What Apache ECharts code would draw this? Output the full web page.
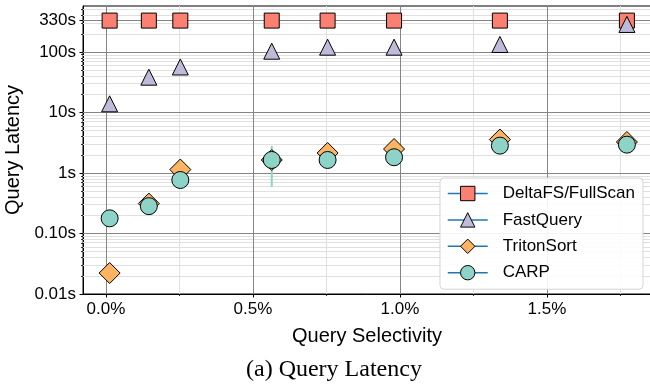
<!DOCTYPE html>
<html>
<head>
<meta charset="utf-8">
<script src="https://cdn.jsdelivr.net/npm/echarts@6/dist/echarts.min.js"></script>
<style>html,body{margin:0;padding:0;background:#fff;}#c{width:650px;height:387px;}</style>
</head>
<body>
<div id="c"></div>
<script>
// ---- data ----
const selectivity = [0.0126, 0.146, 0.253, 0.564, 0.754, 0.98, 1.34, 1.772]; // %
const deltaFS    = [330, 330, 330, 330, 330, 330, 330, 330];
const fastQuery  = [13.9, 38.3, 56.5, 103, 120, 120, 133, 285];
const tritonSort = [0.0222, 0.312, 1.14, 1.64, 2.14, 2.49, 3.57, 3.25];
const carp       = [0.178, 0.283, 0.766, 1.64, 1.64, 1.82, 2.83, 2.94];
const carpErrLow  = [null, null, null, 0.59, null, null, null, null];
const carpErrHigh = [null, null, null, 2.8, null, null, null, null];

const xTickValues = [0, 0.5, 1.0, 1.5];
const xTickLabels = ['0.0%', '0.5%', '1.0%', '1.5%'];
const xMinorTicks = [0.25, 0.75, 1.25, 1.75];
const yTickValues = [0.01, 0.1, 1, 10, 100, 330];
const yTickLabels = ['0.01s', '0.10s', '1s', '10s', '100s', '330s'];
const yDecades = [0.01, 0.1, 1, 10, 100];
const yMultipliers = [2, 3, 4, 5, 6, 7, 8, 9];

const X_MIN = -0.078, X_MAX = 1.854;
const Y_MIN_RAW = 0.01, Y_MAX_RAW = 575;

// ---- helpers ----
const lg = v => Math.log10(v);
const yMin = lg(Y_MIN_RAW), yMax = lg(Y_MAX_RAW);
const yMinor = [];
yDecades.forEach(d => yMultipliers.forEach(m => { if (d * m <= Y_MAX_RAW) yMinor.push(d * m); }));
const pts = arr => selectivity.map((x, i) => [x, lg(arr[i])]);

const FONT = 'Liberation Sans';
const MAJOR = '#858585', MINOR = '#e0e0e0';

const gridLines = [];
yMinor.forEach(v => gridLines.push({ yAxis: lg(v), lineStyle: { color: MINOR, width: 1, type: 'solid' } }));
xMinorTicks.forEach(v => gridLines.push({ xAxis: v, lineStyle: { color: MINOR, width: 1, type: 'solid' } }));
yTickValues.slice(1).forEach(v => gridLines.push({ yAxis: lg(v), lineStyle: { color: MAJOR, width: 1, type: 'solid' } }));
xTickValues.forEach(v => gridLines.push({ xAxis: v, lineStyle: { color: MAJOR, width: 1, type: 'solid' } }));

const errData = [];
selectivity.forEach((x, i) => { if (carpErrLow[i] != null) errData.push([x, lg(carpErrLow[i]), lg(carpErrHigh[i])]); });

function markerSeries(name, arr, symbol, size, color) {
  return {
    name, type: 'line', data: pts(arr), symbol, symbolSize: size, showSymbol: true,
    lineStyle: { width: 0, opacity: 0 },
    itemStyle: { color, borderColor: '#000', borderWidth: 1, opacity: 1 },
    emphasis: { disabled: true }, z: 3, animation: false, clip: false
  };
}

const chart = echarts.init(document.getElementById('c'), null, { renderer: 'canvas' });
chart.setOption({
  animation: false,
  textStyle: { fontFamily: FONT, color: '#000' },
  grid: { left: 83, right: -1, top: 6, bottom: 93, show: true, borderColor: '#000', borderWidth: 1,
          backgroundColor: 'transparent', containLabel: false, outerBoundsMode: 'none' },
  xAxis: [
    {
      type: 'value', min: X_MIN, max: X_MAX,
      axisLine: { show: true, onZero: false, lineStyle: { color: '#000', width: 1 } },
      axisTick: { show: true, customValues: xTickValues, length: 3.5, lineStyle: { color: '#000', width: 1 } },
      axisLabel: {
        customValues: xTickValues, fontSize: 17, fontFamily: FONT, color: '#000', margin: 7,
        formatter: v => { const i = xTickValues.findIndex(t => Math.abs(t - v) < 1e-6); return i >= 0 ? xTickLabels[i] : ''; }
      },
      splitLine: { show: false },
      name: 'Query Selectivity', nameLocation: 'middle', nameGap: 32,
      nameTextStyle: { fontSize: 20, fontFamily: FONT, color: '#000' }
    },
    {
      type: 'value', min: X_MIN, max: X_MAX, position: 'bottom',
      axisLine: { show: false, onZero: false },
      axisTick: { show: true, customValues: xMinorTicks, length: 2, lineStyle: { color: '#000', width: 0.8 } },
      axisLabel: { show: false }, splitLine: { show: false }
    }
  ],
  yAxis: [
    {
      type: 'value', min: yMin, max: yMax,
      axisLine: { show: true, onZero: false, lineStyle: { color: '#000', width: 1 } },
      axisTick: { show: true, customValues: yTickValues.map(lg), length: 3.5, lineStyle: { color: '#000', width: 1 } },
      axisLabel: {
        customValues: yTickValues.map(lg), fontSize: 17, fontFamily: FONT, color: '#000', margin: 7,
        formatter: v => { let best = 0; yTickValues.forEach((t, i) => { if (Math.abs(lg(t) - v) < Math.abs(lg(yTickValues[best]) - v)) best = i; }); return yTickLabels[best]; }
      },
      splitLine: { show: false },
      name: 'Query Latency', nameLocation: 'middle', nameGap: 52,
      nameTextStyle: { fontSize: 20, fontFamily: FONT, color: '#000' }
    },
    {
      type: 'value', min: yMin, max: yMax, position: 'left',
      axisLine: { show: false, onZero: false },
      axisTick: { show: true, customValues: yMinor.map(lg), length: 2, lineStyle: { color: '#000', width: 0.8 } },
      axisLabel: { show: false }, splitLine: { show: false }
    }
  ],
  legend: {
    orient: 'vertical', right: 7, top: 178,
    data: ['DeltaFS/FullScan', 'FastQuery', 'TritonSort', 'CARP'],
    itemWidth: 40, itemHeight: 18, itemGap: 9.4,
    padding: [7, 8, 8, 7],
    backgroundColor: 'rgba(255,255,255,0.9)', borderColor: '#d4d4d4', borderWidth: 1, borderRadius: 4,
    textStyle: { fontSize: 17, fontFamily: FONT, color: '#000', padding: [0, 0, 0, 10] },
    lineStyle: { color: '#1f77b4', width: 1.5, opacity: 1 },
    itemStyle: { borderColor: '#000', borderWidth: 1 },
    selectedMode: false, z: 10
  },
  series: [
    {
      name: 'grid', type: 'line', data: [[selectivity[0], lg(deltaFS[0])]], showSymbol: false, symbol: 'none',
      lineStyle: { opacity: 0 }, z: 1, silent: true,
      markLine: { silent: true, z: 1, symbol: ['none', 'none'], label: { show: false }, animation: false, data: gridLines }
    },
    {
      name: 'CARP error', type: 'custom', z: 2, data: errData, silent: true,
      renderItem: (params, api) => {
        const p1 = api.coord([api.value(0), api.value(1)]);
        const p2 = api.coord([api.value(0), api.value(2)]);
        return { type: 'line', shape: { x1: p1[0], y1: p1[1], x2: p2[0], y2: p2[1] }, style: { stroke: '#8DD3C7', lineWidth: 2 } };
      }
    },
    markerSeries('DeltaFS/FullScan', deltaFS, 'rect', 15, '#FB8072'),
    markerSeries('FastQuery', fastQuery, 'triangle', [16, 16], '#BEBADA'),
    markerSeries('TritonSort', tritonSort, 'diamond', [21, 21], '#FDB462'),
    markerSeries('CARP', carp, 'circle', 17, '#8DD3C7')
  ],
  graphic: [
    { type: 'text', left: 246, top: 358, style: { text: '(a) Query Latency', font: '24px "Liberation Serif"', fill: '#000' } }
  ]
});
</script>
</body>
</html>
